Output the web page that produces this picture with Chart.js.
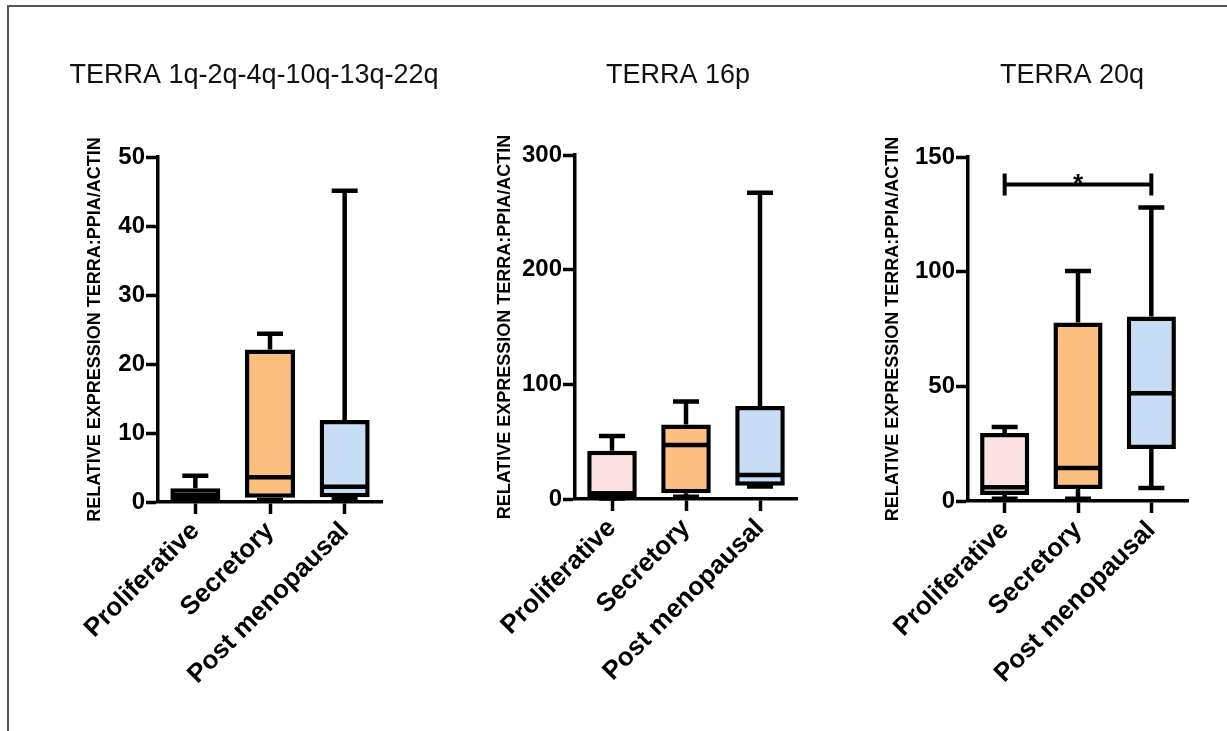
<!DOCTYPE html>
<html>
<head>
<meta charset="utf-8">
<title>TERRA expression</title>
<script src="https://cdn.jsdelivr.net/npm/chart.js@4.4.1/dist/chart.umd.min.js"></script>
<style>
  html, body { margin: 0; padding: 0; background: #fff; }
  #wrap { position: relative; width: 1227px; height: 731px; overflow: hidden; }
  #frame { position: absolute; left: 7px; top: 5px; right: -10px; bottom: -10px;
           border-top: 2px solid #555; border-left: 2px solid #555; }
  canvas { position: absolute; left: 0; top: 0; }
</style>
</head>
<body>
<div id="wrap">
  <div id="frame"></div>
  <canvas id="c1" width="1227" height="731"></canvas>
  <canvas id="c2" width="1227" height="731"></canvas>
  <canvas id="c3" width="1227" height="731"></canvas>
</div>
<script>
const groups = ['Proliferative', 'Secretory', 'Post menopausal']
const fills = ['#fde0e2', '#fdbf80', '#c7dcf5']
const yTitle = 'RELATIVE EXPRESSION TERRA:PPIA/ACTIN'

// TERRA 1q-2q-4q-10q-13q-22q
const aMin = [0.2, 0.3, 0.5]
const aQ1  = [0.3, 0.6, 0.7]
const aMed = [1.0, 3.6, 2.2]
const aQ3  = [2.0, 22.1, 11.9]
const aMax = [3.8, 24.4, 45.1]
const aTicks = [0, 10, 20, 30, 40, 50]

// TERRA 16p
const bMin = [0.5, 2, 11]
const bQ1  = [1.5, 5, 11.5]
const bMed = [5, 47, 21]
const bQ3  = [42, 65, 81]
const bMax = [55, 85, 267]
const bTicks = [0, 100, 200, 300]

// TERRA 20q
const cMin = [1, 1, 5.7]
const cQ1  = [2.6, 5.2, 22.7]
const cMed = [6, 14.4, 47]
const cQ3  = [29.7, 77.8, 80.4]
const cMax = [32.3, 100.3, 128]
const cTicks = [0, 50, 100, 150]
const cSigPair = [0, 2]
const cSigLevel = 138
const cSigText = '*'

const FONT = "'Liberation Sans', Arial, sans-serif"
Chart.defaults.font.family = FONT
Chart.defaults.color = '#000'

// whiskers go under the boxes, medians on top
const boxPlot = (mins, meds, maxs, q1s, q3s) => ({
    id: 'boxPlot',
    beforeDatasetsDraw(chart) {
        const {ctx} = chart, y = chart.scales.y
        ctx.save()
        ctx.strokeStyle = '#000'
        ctx.lineWidth = 4.5
        chart.getDatasetMeta(0).data.forEach((bar, i) => {
            const x = bar.x, cap = 13
            ctx.beginPath()
            ctx.moveTo(x, y.getPixelForValue(maxs[i]))
            ctx.lineTo(x, y.getPixelForValue(q3s[i]))
            ctx.moveTo(x, y.getPixelForValue(q1s[i]))
            ctx.lineTo(x, y.getPixelForValue(mins[i]))
            ctx.moveTo(x - cap, y.getPixelForValue(maxs[i]))
            ctx.lineTo(x + cap, y.getPixelForValue(maxs[i]))
            ctx.moveTo(x - cap, y.getPixelForValue(mins[i]))
            ctx.lineTo(x + cap, y.getPixelForValue(mins[i]))
            ctx.stroke()
        })
        ctx.restore()
    },
    afterDatasetsDraw(chart) {
        const {ctx} = chart, y = chart.scales.y
        ctx.save()
        ctx.strokeStyle = '#000'
        ctx.lineWidth = 4.5
        chart.getDatasetMeta(0).data.forEach((bar, i) => {
            const py = y.getPixelForValue(meds[i])
            ctx.beginPath()
            ctx.moveTo(bar.x - bar.width / 2 + 2, py)
            ctx.lineTo(bar.x + bar.width / 2 - 2, py)
            ctx.stroke()
        })
        ctx.restore()
    }
})

const panelTitle = (text, cx) => ({
    id: 'panelTitle',
    afterDraw(chart) {
        const {ctx} = chart
        ctx.save()
        ctx.font = `27px ${FONT}`
        ctx.fillStyle = '#111'
        ctx.textAlign = 'center'
        ctx.textBaseline = 'alphabetic'
        ctx.fillText(text, cx, 83)
        ctx.restore()
    }
})

const sigBar = (pair, level, text) => ({
    id: 'sigBar',
    afterDraw(chart) {
        const {ctx} = chart, x = chart.scales.x, y = chart.scales.y
        const x0 = x.getPixelForValue(pair[0]), x1 = x.getPixelForValue(pair[1])
        const py = y.getPixelForValue(level)
        ctx.save()
        ctx.strokeStyle = '#000'
        ctx.lineWidth = 4
        ctx.beginPath()
        ctx.moveTo(x0, py); ctx.lineTo(x1, py)
        ctx.moveTo(x0, py - 11); ctx.lineTo(x0, py + 11)
        ctx.moveTo(x1, py - 11); ctx.lineTo(x1, py + 11)
        ctx.stroke()
        // the asterisk glyph sits high in the em box, so the baseline goes below the line
        ctx.font = `bold 26px ${FONT}`
        ctx.fillStyle = '#000'
        ctx.textAlign = 'center'
        ctx.textBaseline = 'alphabetic'
        ctx.fillText(text, (x0 + x1) / 2, py + 7)
        ctx.restore()
    }
})

const makePanel = (id, p) => {
    const padLeft = p.box.yTitle - 11
    return new Chart(document.getElementById(id), {
        type: 'bar',
        data: {
            labels: groups,
            datasets: [{
                data: p.q1.map((v, i) => [v, p.q3[i]]),
                backgroundColor: fills,
                borderColor: '#000',
                borderWidth: 4.5,
                borderSkipped: false,
                barPercentage: 0.67,
                categoryPercentage: 1,
            }]
        },
        options: {
            responsive: false,
            animation: false,
            layout: { padding: { left: padLeft, top: p.box.top, right: 1227 - p.box.right, bottom: 0 } },
            plugins: { legend: { display: false }, tooltip: { enabled: false } },
            scales: {
                x: {
                    offset: true,
                    grid: { offset: false, drawOnChartArea: false, tickLength: 12, tickWidth: 3.5, tickColor: '#000' },
                    border: { color: '#000', width: 3.5 },
                    ticks: { minRotation: 45, maxRotation: 45, padding: 2, color: '#000',
                             font: { size: 26, weight: 'bold' } },
                    afterFit: s => { s.height = 731 - p.box.bottom; s.paddingLeft = 0; s.paddingRight = 0 }
                },
                y: {
                    min: 0,
                    max: p.ticks[p.ticks.length - 1],
                    afterBuildTicks: s => { s.ticks = p.ticks.map(v => ({value: v})) },
                    grid: { drawOnChartArea: false, tickLength: 12, tickWidth: 3.5, tickColor: '#000' },
                    border: { color: '#000', width: 3.5 },
                    ticks: { padding: 1, color: '#000', font: { size: 24, weight: 'bold' } },
                    title: { display: true, text: yTitle, padding: 0, color: '#000',
                             font: { size: 18, weight: 'bold', lineHeight: 1.2 } },
                    afterFit: s => { s.width = p.box.left - padLeft }
                }
            }
        },
        plugins: [boxPlot(p.min, p.med, p.max, p.q1, p.q3), panelTitle(p.title, p.box.head)].concat(p.extra || [])
    })
}

makePanel('c1', {
    title: 'TERRA 1q-2q-4q-10q-13q-22q',
    min: aMin, q1: aQ1, med: aMed, q3: aQ3, max: aMax, ticks: aTicks,
    box: { left: 158, right: 382, top: 157, bottom: 502, yTitle: 95, head: 254 }
})
makePanel('c2', {
    title: 'TERRA 16p',
    min: bMin, q1: bQ1, med: bMed, q3: bQ3, max: bMax, ticks: bTicks,
    box: { left: 575, right: 797, top: 155, bottom: 499, yTitle: 505, head: 678 }
})
makePanel('c3', {
    title: 'TERRA 20q',
    min: cMin, q1: cQ1, med: cMed, q3: cQ3, max: cMax, ticks: cTicks,
    box: { left: 968, right: 1188, top: 157, bottom: 501, yTitle: 893, head: 1072 },
    extra: [sigBar(cSigPair, cSigLevel, cSigText)]
})
</script>
</body>
</html>
